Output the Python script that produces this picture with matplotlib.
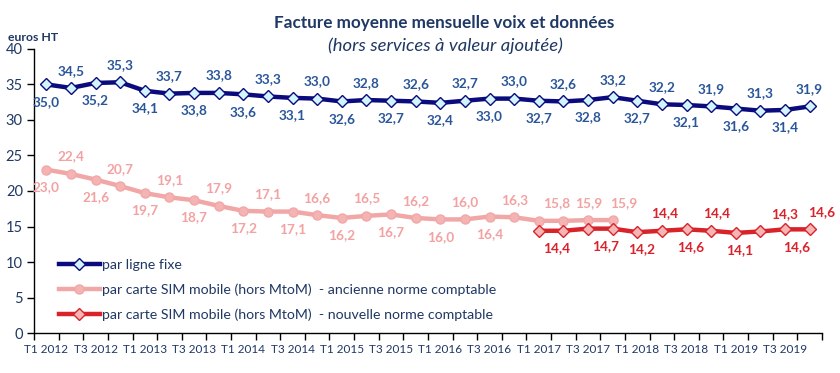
import matplotlib
matplotlib.use("Agg")
import matplotlib.pyplot as plt
from matplotlib.ticker import FixedLocator

plt.rcParams['font.family'] = ['Lato', 'DejaVu Sans']

quarters = ["T1 2012", "T2 2012", "T3 2012", "T4 2012",
            "T1 2013", "T2 2013", "T3 2013", "T4 2013",
            "T1 2014", "T2 2014", "T3 2014", "T4 2014",
            "T1 2015", "T2 2015", "T3 2015", "T4 2015",
            "T1 2016", "T2 2016", "T3 2016", "T4 2016",
            "T1 2017", "T2 2017", "T3 2017", "T4 2017",
            "T1 2018", "T2 2018", "T3 2018", "T4 2018",
            "T1 2019", "T2 2019", "T3 2019", "T4 2019"]

fixe = [35.0, 34.5, 35.2, 35.3, 34.1, 33.7, 33.8, 33.8, 33.6, 33.3, 33.1, 33.0,
        32.6, 32.8, 32.7, 32.6, 32.4, 32.7, 33.0, 33.0, 32.7, 32.6, 32.8, 33.2,
        32.7, 32.2, 32.1, 31.9, 31.6, 31.3, 31.4, 31.9]

mobile_ancienne = [23.0, 22.4, 21.6, 20.7, 19.7, 19.1, 18.7, 17.9, 17.2, 17.1, 17.1, 16.6,
                   16.2, 16.5, 16.7, 16.2, 16.0, 16.0, 16.4, 16.3, 15.8, 15.8, 15.9, 15.9]

mobile_nouvelle = [14.4, 14.4, 14.7, 14.7, 14.2, 14.4, 14.6, 14.4, 14.1, 14.3, 14.6, 14.6]
nouvelle_start = 20

legend_labels = ["par ligne fixe",
                 "par carte SIM mobile (hors MtoM)  - ancienne norme comptable",
                 "par carte SIM mobile (hors MtoM)  - nouvelle norme comptable"]

NAVY = "#0B0B7E"
FIX_LBL = "#2A5699"
PINK = "#F2A7A7"
PINK_LBL = "#F2A2A2"
RED = "#D8232A"
RED_LBL = "#D9222B"
TXT = "#1F3864"

fig = plt.figure(figsize=(8.4, 3.73), dpi=100)
ax = fig.add_axes([0.0405, 0.107, 0.938, 0.762])

x_fixe = list(range(len(fixe)))
x_old = list(range(len(mobile_ancienne)))
x_new = list(range(nouvelle_start, nouvelle_start + len(mobile_nouvelle)))

ax.plot(x_fixe, fixe, color=NAVY, lw=3.2, marker="D", ms=6.5, mfc="#D2F4FF",
        mec=NAVY, mew=1.0, label=legend_labels[0], zorder=3)
ax.plot(x_old, mobile_ancienne, color=PINK, lw=3.2, marker="o", ms=6.5, mfc="#F4B4B4",
        mec=PINK, mew=1.0, label=legend_labels[1], zorder=3)
ax.plot(x_new, mobile_nouvelle, color=RED, lw=3.2, marker="D", ms=6.5, mfc="#F5B5B5",
        mec=RED, mew=1.0, label=legend_labels[2], zorder=4)

def fmt(v):
    return f"{v:.1f}".replace(".", ",")

OFF = 12.5
lbl_kw = dict(textcoords="offset points", ha="center", va="center",
              fontsize=9.8, fontweight="bold")

# fixed line: alternate below / above
for i, v in enumerate(fixe):
    dy = -OFF if i % 2 == 0 else OFF
    ax.annotate(fmt(v), (i, v), xytext=(0, dy), color=FIX_LBL, **lbl_kw)

# old mobile: alternate up to index 19, then three labels above
for i, v in enumerate(mobile_ancienne[:20]):
    dy = -OFF if i % 2 == 0 else OFF
    ax.annotate(fmt(v), (i, v), xytext=(0, dy), color=PINK_LBL, **lbl_kw)
old_tail = [(21, -0.27), (22, 0.04), (23, 0.46)]
for i, dx in old_tail:
    ax.annotate(fmt(mobile_ancienne[i]), (i + dx, mobile_ancienne[i]), xytext=(0, OFF),
                color=PINK_LBL, **lbl_kw)

# new mobile labels
new_lbl = [(21, -0.27, -1), (23, -0.30, -1), (24, 0.16, -1), (25, 0.09, 1),
           (26, 0.15, -1), (27, 0.21, 1), (28, 0.15, -1), (29, 0.98, 1),
           (30, 0.47, -1), (31, 0.49, 1)]
for i, dx, side in new_lbl:
    v = mobile_nouvelle[i - nouvelle_start]
    ax.annotate(fmt(v), (i + dx, v), xytext=(0, side * OFF), color=RED_LBL, **lbl_kw)

ax.set_xlim(-0.5, len(quarters) - 0.5)
ax.set_ylim(0, 40)
ax.set_yticks(range(0, 41, 5))
ax.set_xticks(range(0, len(quarters), 2))
ax.set_xticklabels(quarters[::2])
ax.xaxis.set_minor_locator(FixedLocator([k - 0.5 for k in range(len(quarters) + 1)]))
ax.tick_params(axis="x", which="major", length=0, pad=8, labelsize=8.5, labelcolor=TXT)
ax.tick_params(axis="x", which="minor", length=5, width=1, color="black")
ax.tick_params(axis="y", length=5, width=1, pad=3, labelsize=10.5, labelcolor=TXT)

for s in ("top", "right"):
    ax.spines[s].set_visible(False)
ax.spines["left"].set_linewidth(1)
ax.spines["bottom"].set_linewidth(1)

leg = ax.legend(loc="upper left", bbox_to_anchor=(0.032, 0.262), frameon=False,
                fontsize=10.2, handlelength=2.85, handletextpad=0.15, labelspacing=0.88,
                borderaxespad=0, borderpad=0)
for t in leg.get_texts():
    t.set_color(TXT)

fig.text(0.529, 0.937, "Facture moyenne mensuelle voix et données", ha="center",
         va="center", fontsize=12.3, fontweight="bold", color=TXT)
fig.text(0.53, 0.877, "(hors services à valeur ajoutée)", ha="center", va="center",
         fontsize=13.3, style="italic", color=TXT)
fig.text(0.009, 0.9, "euros HT", ha="left", va="center", fontsize=8.8,
         fontweight="bold", color=TXT)

fig.savefig("out.png", dpi=100)
